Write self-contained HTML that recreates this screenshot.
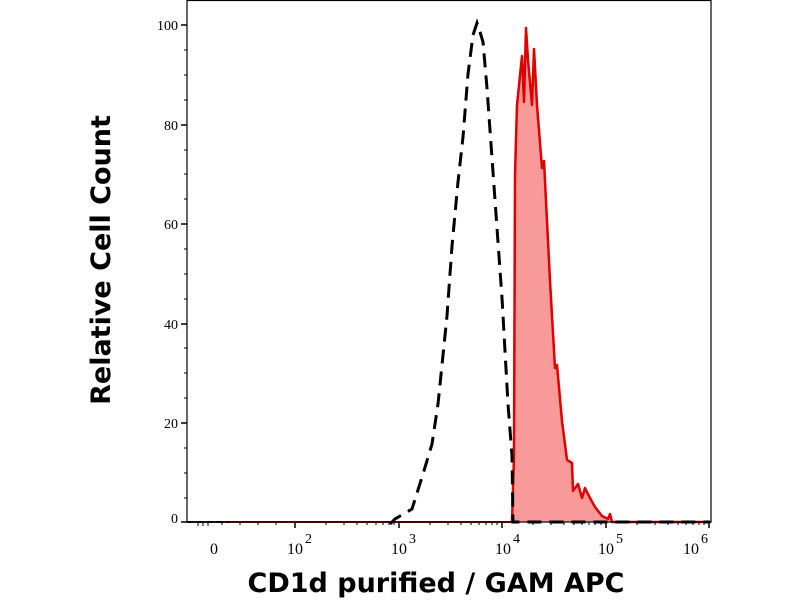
<!DOCTYPE html>
<html><head><meta charset="utf-8"><style>
html,body{margin:0;padding:0;background:#fff;width:800px;height:600px;overflow:hidden}
</style></head><body>
<svg width="800" height="600" xmlns="http://www.w3.org/2000/svg">
<rect x="0" y="0" width="800" height="600" fill="#fff"/>
<polygon fill="#f99a9a" stroke="none" points="512,522 514,456 515,175 517,105 522,56 524,102 526,28 528,60 532,105 534,49 537,105 542,168 544,161 550,281 555,368 557,365 562,421 567,460 572,463 573,491 578,484 582,498 585,488 590,498 595,507 602,516 608,519 610,514 612,522"/>
<polyline fill="none" stroke="#e00000" stroke-width="2.5" stroke-linejoin="round" points="512,522 514,456 515,175 517,105 522,56 524,102 526,28 528,60 532,105 534,49 537,105 542,168 544,161 550,281 555,368 557,365 562,421 567,460 572,463 573,491 578,484 582,498 585,488 590,498 595,507 602,516 608,519 610,514 612,522 711,522"/>
<line x1="187" y1="522" x2="512" y2="522" stroke="#c00000" stroke-width="2"/>
<polyline fill="none" stroke="#000" stroke-width="3" stroke-dasharray="14,8" points="390,524 395,519 412,509 423,474 432,444 438,404 447,316 452,246 458,182 463,137 468,74 473,35 477,23 480,32 483,42 487,88 492,158 497,228 502,298 505,351 508,404 512,456 513,522 520,522 710,522"/>
<line x1="187" y1="522" x2="230" y2="522" stroke="#000" stroke-width="2" stroke-dasharray="6,4"/>
<rect x="187" y="0.5" width="524" height="521.5" fill="none" stroke="#000" stroke-width="1.2"/>
<g stroke="#000" stroke-width="1.5">
<line x1="181" y1="522" x2="187" y2="522"/><line x1="181" y1="423" x2="187" y2="423"/><line x1="181" y1="324" x2="187" y2="324"/><line x1="181" y1="224" x2="187" y2="224"/><line x1="181" y1="125" x2="187" y2="125"/><line x1="181" y1="25" x2="187" y2="25"/>
</g>
<g stroke="#000" stroke-width="1">
<line x1="184" y1="498" x2="187" y2="498"/><line x1="184" y1="473" x2="187" y2="473"/><line x1="184" y1="448" x2="187" y2="448"/>
<line x1="184" y1="398" x2="187" y2="398"/><line x1="184" y1="373" x2="187" y2="373"/><line x1="184" y1="348" x2="187" y2="348"/>
<line x1="184" y1="299" x2="187" y2="299"/><line x1="184" y1="274" x2="187" y2="274"/><line x1="184" y1="249" x2="187" y2="249"/>
<line x1="184" y1="199" x2="187" y2="199"/><line x1="184" y1="174" x2="187" y2="174"/><line x1="184" y1="150" x2="187" y2="150"/>
<line x1="184" y1="100" x2="187" y2="100"/><line x1="184" y1="75" x2="187" y2="75"/><line x1="184" y1="50" x2="187" y2="50"/>
</g>
<g font-family="Liberation Serif, serif" font-size="14" fill="#000" text-anchor="end">
<text x="178" y="523">0</text><text x="178" y="428">20</text><text x="178" y="329">40</text><text x="178" y="229">60</text><text x="178" y="130">80</text><text x="178" y="30">100</text>
</g>
<g stroke="#000" stroke-width="1.5">
<line x1="295" y1="522" x2="295" y2="528"/><line x1="399" y1="522" x2="399" y2="528"/><line x1="502" y1="522" x2="502" y2="528"/><line x1="606" y1="522" x2="606" y2="528"/><line x1="709" y1="522" x2="709" y2="528"/>
</g>
<g stroke="#000" stroke-width="1">
<line x1="326" y1="522" x2="326" y2="525"/><line x1="344" y1="522" x2="344" y2="525"/><line x1="357" y1="522" x2="357" y2="525"/><line x1="367" y1="522" x2="367" y2="525"/><line x1="376" y1="522" x2="376" y2="525"/><line x1="383" y1="522" x2="383" y2="525"/><line x1="389" y1="522" x2="389" y2="525"/><line x1="394" y1="522" x2="394" y2="525"/>
<line x1="430" y1="522" x2="430" y2="525"/><line x1="448" y1="522" x2="448" y2="525"/><line x1="461" y1="522" x2="461" y2="525"/><line x1="471" y1="522" x2="471" y2="525"/><line x1="479" y1="522" x2="479" y2="525"/><line x1="486" y1="522" x2="486" y2="525"/><line x1="492" y1="522" x2="492" y2="525"/><line x1="497" y1="522" x2="497" y2="525"/>
<line x1="533" y1="522" x2="533" y2="525"/><line x1="551" y1="522" x2="551" y2="525"/><line x1="564" y1="522" x2="564" y2="525"/><line x1="574" y1="522" x2="574" y2="525"/><line x1="582" y1="522" x2="582" y2="525"/><line x1="589" y1="522" x2="589" y2="525"/><line x1="595" y1="522" x2="595" y2="525"/><line x1="601" y1="522" x2="601" y2="525"/>
<line x1="637" y1="522" x2="637" y2="525"/><line x1="655" y1="522" x2="655" y2="525"/><line x1="668" y1="522" x2="668" y2="525"/><line x1="678" y1="522" x2="678" y2="525"/><line x1="686" y1="522" x2="686" y2="525"/><line x1="693" y1="522" x2="693" y2="525"/><line x1="699" y1="522" x2="699" y2="525"/><line x1="704" y1="522" x2="704" y2="525"/>
<line x1="198" y1="522" x2="198" y2="526"/><line x1="203" y1="522" x2="203" y2="526"/><line x1="208" y1="522" x2="208" y2="526"/><line x1="222" y1="522" x2="222" y2="525"/><line x1="240" y1="522" x2="240" y2="525"/><line x1="258" y1="522" x2="258" y2="525"/><line x1="276" y1="522" x2="276" y2="525"/>
</g>
<g font-family="Liberation Serif, serif" font-size="16" fill="#000">
<text x="210" y="554">0</text>
<text x="287" y="554">10</text><text x="305" y="543" font-size="14">2</text>
<text x="391" y="554">10</text><text x="409" y="543" font-size="14">3</text>
<text x="495" y="554">10</text><text x="513" y="543" font-size="14">4</text>
<text x="598" y="554">10</text><text x="616" y="543" font-size="14">5</text>
<text x="683" y="554">10</text><text x="701" y="543" font-size="14">6</text>
</g>
<text x="436" y="592" text-anchor="middle" font-family="DejaVu Sans, sans-serif" font-weight="bold" font-size="27" fill="#000">CD1d purified / GAM APC</text>
<text transform="translate(110,260) rotate(-90)" text-anchor="middle" font-family="DejaVu Sans, sans-serif" font-weight="bold" font-size="27" fill="#000">Relative Cell Count</text>
</svg>
</body></html>
